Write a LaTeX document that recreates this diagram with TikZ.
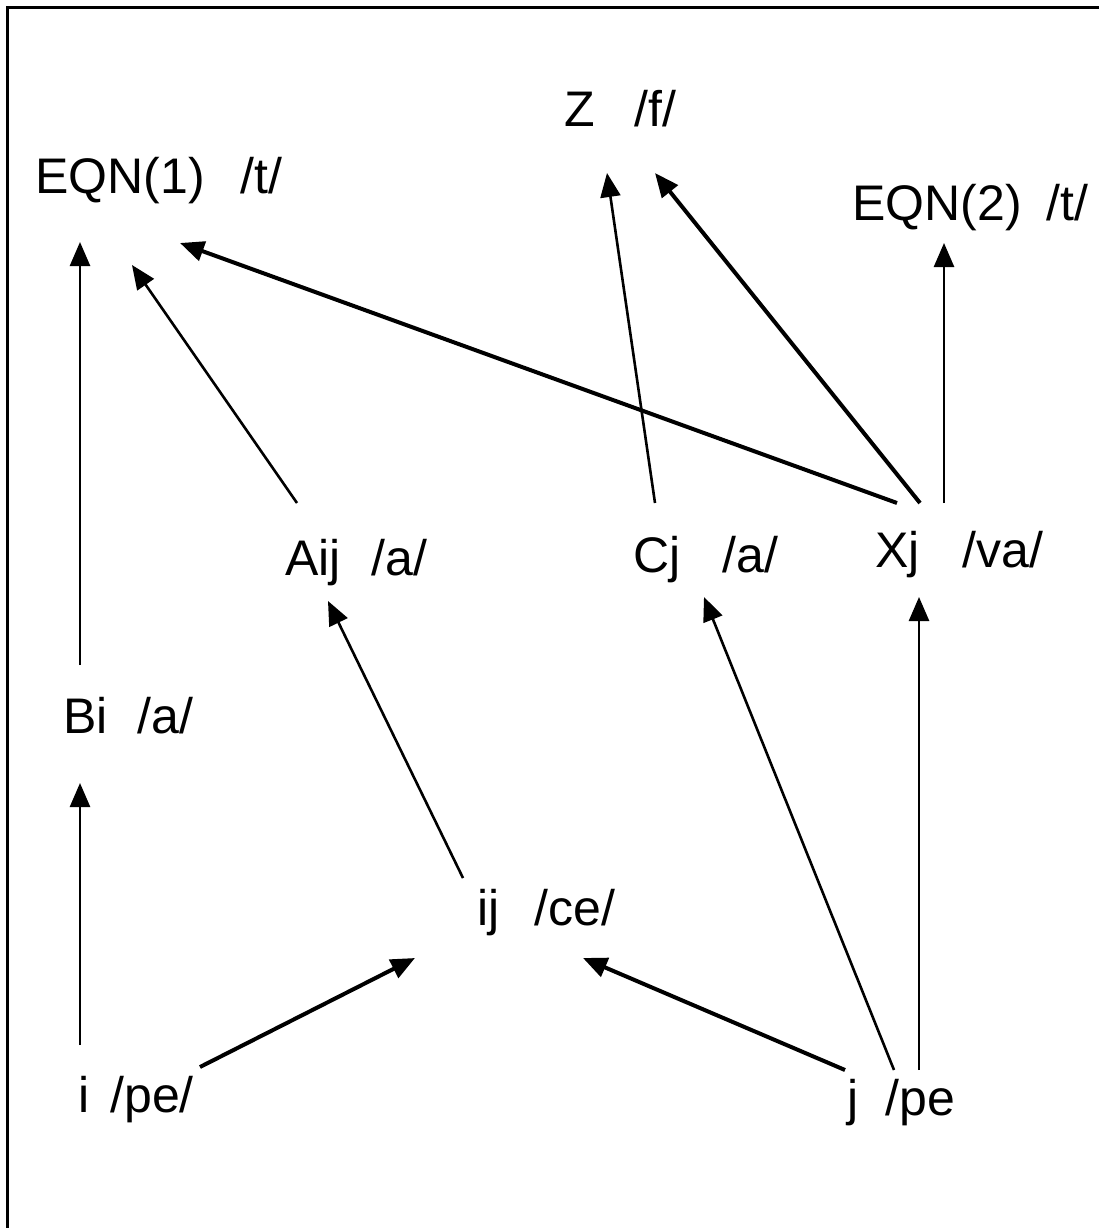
\documentclass[tikz,border=0pt]{standalone}
\usepackage{fontspec}
\setmainfont{Liberation Sans}
\usetikzlibrary{arrows.meta}

\begin{document}
\begin{tikzpicture}[x=1pt, y=-1pt,
  lbl/.style={anchor=base west, inner sep=0pt, font=\fontsize{50}{60}\selectfont},
  arr/.style={-{Triangle[length=24pt, width=20pt]}, line width=2.6pt},
  thickarr/.style={arr, line width=4pt},
]
  \useasboundingbox (0,0) rectangle (1099,1228);

  % Frame
  \draw[line width=3pt] (7,1228) -- (7,8) -- (1099,8);

  % Top row
  \node[lbl] (eqn1) at (35,193)  {EQN(1)\hspace{36pt}/t/};
  \node[lbl] (z)    at (564,127) {Z\hspace{40pt}/f/};
  \node[lbl] (eqn2) at (852,220) {EQN(2)\hspace{25pt}/t/};

  % Middle rows
  \node[lbl] (aij) at (285,575) {Aij\hspace{31pt}/a/};
  \node[lbl] (cj)  at (633,572) {Cj\hspace{42pt}/a/};
  \node[lbl] (xj)  at (875,567) {Xj\hspace{43pt}/va/};
  \node[lbl] (bi)  at (63,733)  {Bi\hspace{30pt}/a/};
  \node[lbl] (ij)  at (477,925) {ij\hspace{35pt}/ce/};

  % Bottom row
  \node[lbl] (i) at (78,1112)  {i\hspace{21pt}/pe/};
  \node[lbl] (j) at (847,1115) {j\hspace{27pt}/pe};

  % Arrows
  \draw[arr] ([shift={(2,-67)}]i.base west) -- ([shift={(17,50)}]bi.base west);
  \draw[arr] ([shift={(17,-68)}]bi.base west) -- ([shift={(45,49)}]eqn1.base west);
  \draw[thickarr] ([shift={(122,-45)}]i.base west) -- ([shift={(-62,33)}]ij.base west);
  \draw[thickarr] ([shift={(-2,-45)}]j.base west) -- ([shift={(106,33)}]ij.base west);
  \draw[arr] ([shift={(-14,-47)}]ij.base west) -- ([shift={(43,26)}]aij.base west);
  \draw[arr] ([shift={(47,-45)}]j.base west) -- ([shift={(71,25)}]cj.base west);
  \draw[arr] ([shift={(72,-45)}]j.base west) -- ([shift={(44,30)}]xj.base west);
  \draw[arr] ([shift={(12,-72)}]aij.base west) -- ([shift={(97,72)}]eqn1.base west);
  \draw[thickarr] ([shift={(22,-64)}]xj.base west) -- ([shift={(145,50)}]eqn1.base west);
  \draw[arr] ([shift={(22,-69)}]cj.base west) -- ([shift={(43,46)}]z.base west);
  \draw[thickarr] ([shift={(45,-64)}]xj.base west) -- ([shift={(91,46)}]z.base west);
  \draw[arr] ([shift={(69,-64)}]xj.base west) -- ([shift={(92,23)}]eqn2.base west);
\end{tikzpicture}
\end{document}
